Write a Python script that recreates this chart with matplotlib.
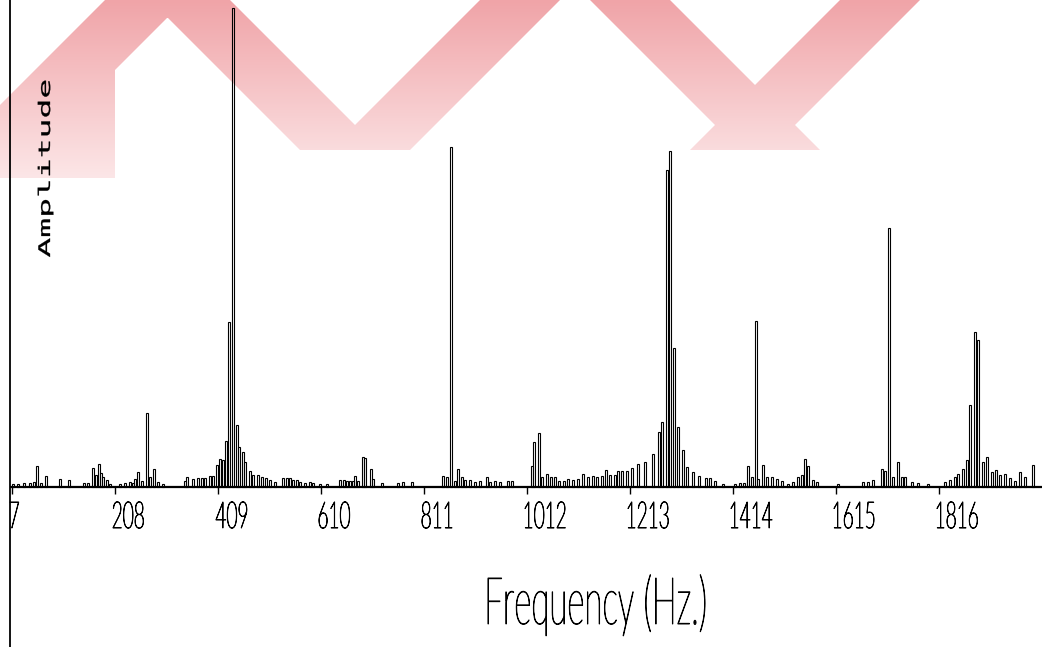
import numpy as np
import matplotlib.pyplot as plt
from matplotlib.textpath import TextPath
from matplotlib.patches import PathPatch
from matplotlib.path import Path
from matplotlib.font_manager import FontProperties
from matplotlib.transforms import Affine2D
from matplotlib.colors import LinearSegmentedColormap

# spectrum lines: frequency (Hz) and amplitude (arbitrary units)
freq = [9, 19, 30, 42, 50, 56, 64, 73, 101, 118, 148, 155, 165, 171, 177, 181, 185, 192, 198,
        218, 228, 237, 243, 247, 253, 261, 270, 276, 284, 292, 302, 345, 349,
        360, 370, 378, 384, 393, 399, 407, 413, 419, 425, 431, 438, 446, 450, 458, 462,
        471, 477, 487, 495, 503, 511, 520, 536, 544, 550, 555, 563, 569, 579, 589, 594,
        608, 622, 647, 655, 661, 667, 673, 676, 682, 692, 696, 708, 712, 729, 760, 770, 788,
        848, 856, 864, 872, 877, 885, 891, 901, 911, 920, 934, 940, 950, 959, 975, 983,
        1022, 1026, 1035, 1041, 1051, 1059, 1067, 1074, 1084, 1092, 1102, 1112, 1121, 1131,
        1141, 1149, 1158, 1166, 1174, 1184, 1190, 1197, 1207, 1217, 1229, 1242, 1258, 1270,
        1276, 1285, 1291, 1299, 1307, 1317, 1324, 1336, 1348, 1361, 1369, 1379, 1395, 1418,
        1428, 1436, 1443, 1451, 1459, 1463, 1473, 1480, 1490, 1500, 1510, 1521, 1531, 1541,
        1549, 1555, 1560, 1570, 1578, 1619, 1668, 1678, 1687, 1705, 1711, 1719, 1727, 1736,
        1744, 1750, 1763, 1775, 1795, 1828, 1838, 1847, 1853, 1863, 1871, 1877, 1886, 1892,
        1902, 1910, 1919, 1927, 1935, 1945, 1955, 1964, 1974, 1984, 1999]
amp = [3, 3, 4, 4, 5, 21, 4, 11, 8, 7, 4, 4, 19, 12, 23, 14, 10, 7, 3,
       3, 4, 5, 4, 8, 15, 6, 74, 10, 18, 5, 3, 6, 10,
       8, 9, 9, 9, 11, 11, 22, 28, 27, 46, 165, 479, 62, 40, 35, 25,
       16, 12, 12, 10, 9, 7, 5, 9, 9, 9, 7, 7, 5, 4, 5, 4,
       3, 3, 7, 7, 6, 6, 6, 11, 6, 30, 29, 18, 8, 4, 4, 5, 5,
       11, 10, 340, 6, 18, 10, 7, 7, 5, 6, 10, 5, 6, 5, 6, 6,
       21, 45, 54, 10, 13, 10, 10, 6, 6, 8, 7, 8, 13, 10,
       11, 10, 11, 17, 12, 12, 16, 16, 16, 19, 23, 25, 33, 55,
       65, 317, 336, 139, 60, 37, 20, 15, 11, 9, 9, 6, 3, 3,
       4, 4, 21, 10, 166, 8, 22, 10, 10, 8, 6, 3, 5, 10,
       12, 28, 21, 7, 5, 3, 5, 5, 7, 18, 16, 259, 10, 25,
       10, 10, 5, 4, 3, 5, 7, 10, 13, 18, 27, 82, 155, 147,
       25, 30, 15, 17, 12, 13, 9, 6, 15, 10, 22]

tick_hz = [7, 208, 409, 610, 811, 1012, 1213, 1414, 1615, 1816]
x_label = 'Frequency (Hz.)'
y_label = 'Amplitude'

W, H = 1048, 647
fig = plt.figure(figsize=(W / 100, H / 100), dpi=100)
ax = fig.add_axes([0, 0, 1, 1])
ax.set_xlim(-16.4, 2028.9)
ax.set_ylim(-160, 487)
ax.axis('off')

thin = FontProperties(family=['Lato', 'DejaVu Sans'], weight='light')
mono = FontProperties(family='DejaVu Sans Mono')


def path_text(s, x0, y0, width=None, height=None, sx=None, sy=None, prop=thin, rot=0, lw=0.7):
    # text drawn as a path so it can be squeezed like the plotter font
    tp = TextPath((0, 0), s, size=1, prop=prop)
    bb = tp.get_extents()
    cap = TextPath((0, 0), 'H', size=1, prop=prop).get_extents().height
    if width is not None:
        sx = width / bb.width
    if height is not None:
        sy = height / cap
    tr = Affine2D().translate(-bb.x0, 0).scale(sx, sy).rotate_deg(rot).translate(x0, y0)
    fig.add_artist(PathPatch(tp, transform=tr, facecolor='black', edgecolor='black',
                             linewidth=lw, zorder=5))


# pale red watermark bands in the top part of the page (pixel coords, y down)
wm = [[(0, 178), (0, 105), (105, 0), (185, 0), (115, 70), (115, 178)],
      [(150, 0), (230, 0), (380, 150), (300, 150)],
      [(330, 150), (480, 0), (560, 0), (410, 150)],
      [(590, 0), (670, 0), (820, 150), (740, 150)],
      [(690, 150), (840, 0), (920, 0), (770, 150)]]
verts, codes = [], []
for pts in wm:
    for i, (px, py) in enumerate(pts):
        verts.append((px, H - py))
        codes.append(Path.MOVETO if i == 0 else Path.LINETO)
    verts.append((0, 0))
    codes.append(Path.CLOSEPOLY)
clip = PathPatch(Path(verts, codes), transform=Affine2D(), facecolor='none', edgecolor='none')
cmap = LinearSegmentedColormap.from_list('wm', ['#fce6e7', '#f0a4a8'])
grad = np.linspace(0, 1, 200).reshape(-1, 1)
im = ax.imshow(grad, cmap=cmap, aspect='auto', origin='lower', extent=(-16.4, 2028.9, 309, 487),
               zorder=0, interpolation='bilinear')
im.set_clip_path(clip)
ax.set_xlim(-16.4, 2028.9)
ax.set_ylim(-160, 487)

ax.bar(freq, amp, width=4, bottom=0, fill=False, edgecolor='black', linewidth=0.8, zorder=3)

ax.axvline(3, color='black', lw=1.3, zorder=4)
ax.hlines(0, 3, 2017, color='black', lw=1.6, zorder=4)
ax.vlines(tick_hz, -7, 0, color='black', lw=1.0, zorder=4)

for t in tick_hz:
    px, py = ax.transData.transform((t, -41))
    path_text(str(t), px - 2, py, sx=19, height=26)

# x axis title
path_text(x_label, 488, H - 624, width=217, height=46)

# y axis title, rotated, inside the frame
path_text(y_label, 50, H - 257, sx=33, sy=16, prop=mono, rot=90, lw=0.2)

fig.savefig('out.png', dpi=100)
